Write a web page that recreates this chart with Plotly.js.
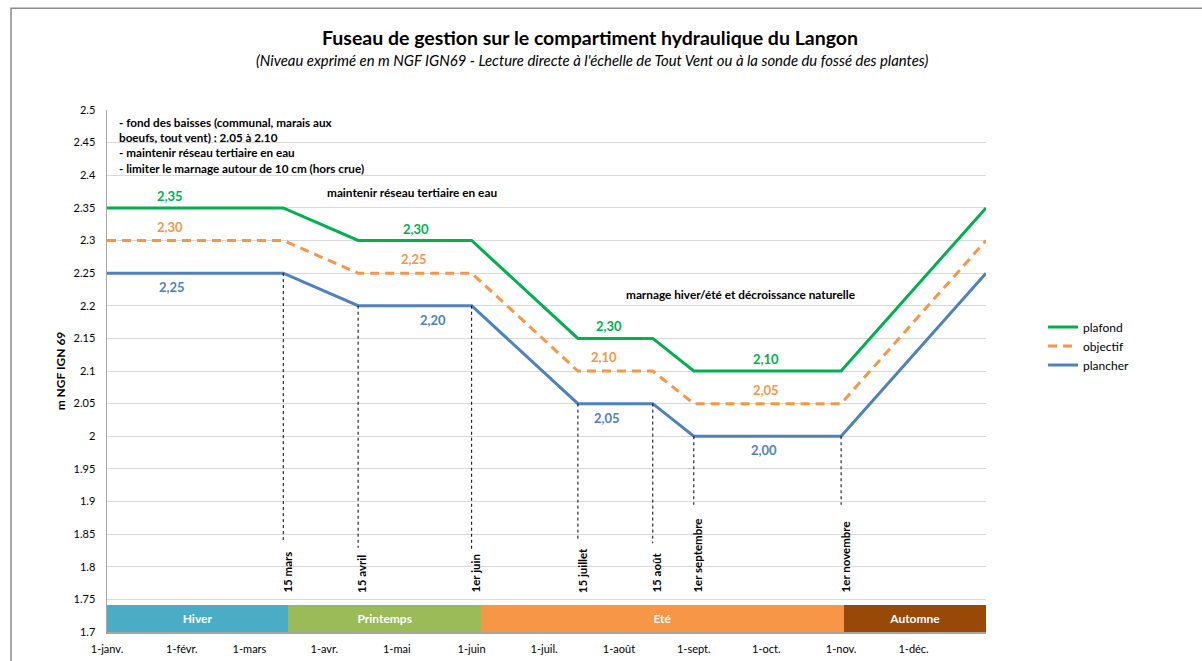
<!DOCTYPE html>
<html>
<head>
<meta charset="utf-8">
<script src="https://cdn.plot.ly/plotly-3.0.1.min.js"></script>
<style>html,body{margin:0;padding:0;background:#fff;}#chart{width:1202px;height:661px;}</style>
</head>
<body>
<div id="chart"></div>
<script>
// ---- Data ----
const dates = ['2023-01-01','2023-03-15','2023-04-15','2023-06-01','2023-07-15','2023-08-15','2023-09-01','2023-11-01','2023-12-31'];
const plafond  = [2.35, 2.35, 2.30, 2.30, 2.15, 2.15, 2.10, 2.10, 2.35];
const objectif = [2.30, 2.30, 2.25, 2.25, 2.10, 2.10, 2.05, 2.05, 2.30];
const plancher = [2.25, 2.25, 2.20, 2.20, 2.05, 2.05, 2.00, 2.00, 2.25];

const monthTicks  = ['2023-01-01','2023-02-01','2023-03-01','2023-04-01','2023-05-01','2023-06-01','2023-07-01','2023-08-01','2023-09-01','2023-10-01','2023-11-01','2023-12-01'];
const monthLabels = ['1-janv.','1-févr.','1-mars','1-avr.','1-mai','1-juin','1-juil.','1-août','1-sept.','1-oct.','1-nov.','1-déc.'];

const seasonNames = ['Hiver','Printemps','Eté','Automne'];
const seasonStart = ['2023-01-01','2023-03-17','2023-06-05','2023-11-02'];
const seasonEnd   = ['2023-03-17','2023-06-05','2023-11-02','2023-12-31'];
const seasonColors = ['#4BACC6','#9BBB59','#F79646','#984807'];

const markerDates  = ['2023-03-15','2023-04-15','2023-06-01','2023-07-15','2023-08-15','2023-09-01','2023-11-01'];
const markerTop    = [2.25, 2.20, 2.20, 2.05, 2.05, 2.00, 2.00];
const markerBottom = [1.841, 1.829, 1.824, 1.839, 1.836, 1.895, 1.895];
const markerLabels = ['15 mars','15 avril','1er juin','15 juillet','15 août','1er septembre','1er novembre'];

const labelTexts  = ['2,35','2,30','2,25','2,30','2,25','2,20','2,30','2,10','2,05','2,10','2,05','2,00'];
const labelDates  = ['2023-01-27','2023-01-27','2023-01-28','2023-05-09','2023-05-08','2023-05-16','2023-07-28','2023-07-26','2023-07-27','2023-10-01','2023-10-01','2023-09-30'];
const labelValues = [2.35, 2.30, 2.25, 2.30, 2.25, 2.20, 2.15, 2.10, 2.05, 2.10, 2.05, 2.00];
const labelSeries = [0,1,2,0,1,2,0,1,2,0,1,2];

const seriesNames  = ['plafond','objectif','plancher'];
const seriesColors = ['#00B050','#F79646','#4F81BD'];

const FONT = 'Lato, "Open Sans", sans-serif';

// ---- Traces ----
const seriesData = [plafond, objectif, plancher];
const traces = seriesData.map((vals, i) => ({
  type: 'scatter', mode: 'lines', x: dates, y: vals, name: seriesNames[i],
  line: {color: seriesColors[i], width: 3, dash: i === 1 ? '9px,6px' : 'solid'},
  hoverinfo: 'skip'
}));

const ms = d => new Date(d + 'T00:00:00Z').getTime();
const seasonMid = seasonStart.map((s, i) => new Date((ms(s) + ms(seasonEnd[i])) / 2).toISOString());
const seasonWidth = seasonStart.map((s, i) => ms(seasonEnd[i]) - ms(s));
traces.unshift({
  type: 'bar', x: seasonMid, y: seasonNames.map(() => 0.041), base: 1.7,
  width: seasonWidth, text: seasonNames, textposition: 'inside', insidetextanchor: 'middle',
  textfont: {color: '#ffffff', size: 12, family: FONT, weight: 'bold'},
  marker: {color: seasonColors, line: {width: 0}}, showlegend: false, hoverinfo: 'skip'
});

// ---- Shapes ----
const shapes = markerDates.map((d, i) => ({
  type: 'line', xref: 'x', yref: 'y', x0: d, x1: d, y0: markerTop[i], y1: markerBottom[i],
  line: {color: '#000000', width: 1, dash: 'dot'}
}));
shapes.push({type: 'rect', xref: 'paper', yref: 'paper', x0: -0.1092, x1: 1.4, y0: 1.195, y1: -0.2,
  line: {color: '#8c8c8c', width: 1.5}, fillcolor: 'rgba(0,0,0,0)', layer: 'below'});

// ---- Annotations ----
const shifts = [12, 14, -14];
const annotations = labelTexts.map((t, i) => ({
  x: labelDates[i], y: labelValues[i], xref: 'x', yref: 'y', text: '<b>' + t + '</b>', showarrow: false,
  xanchor: 'center', yanchor: 'middle',
  yshift: shifts[labelSeries[i]], font: {family: FONT, size: 13, color: seriesColors[labelSeries[i]]}
}));
markerLabels.forEach((t, i) => annotations.push({
  x: markerDates[i], y: 1.757, xref: 'x', yref: 'y', text: '<b>' + t + '</b>', showarrow: false,
  textangle: -90, xanchor: 'center', yanchor: 'bottom', xshift: 4,
  font: {family: FONT, size: 11.5, color: '#000000'}
}));
annotations.push({
  xref: 'paper', yref: 'paper', x: 0.0114, y: 0.9943, xanchor: 'left', yanchor: 'top', align: 'left',
  showarrow: false,
  text: '<b>- fond des baisses (communal, marais aux<br>boeufs, tout vent) : 2.05 à 2.10<br>- maintenir réseau tertiaire en eau<br>- limiter le marnage autour de 10 cm (hors crue)</b>',
  font: {family: FONT, size: 11.7, color: '#000000'}
});
annotations.push({
  xref: 'paper', yref: 'paper', x: (412 - 107) / 879, y: (632 - 192) / 522, showarrow: false,
  xanchor: 'center', yanchor: 'middle',
  text: '<b>maintenir réseau tertiaire en eau</b>', font: {family: FONT, size: 11.8, color: '#000000'}
});
annotations.push({
  xref: 'paper', yref: 'paper', x: (740 - 107) / 879, y: (632 - 294) / 522, showarrow: false,
  xanchor: 'center', yanchor: 'middle',
  text: '<b>marnage hiver/été et décroissance naturelle</b>', font: {family: FONT, size: 11.8, color: '#000000'}
});
annotations.push({
  xref: 'paper', yref: 'paper', x: (592 - 107) / 879, y: (632 - 60) / 522, showarrow: false,
  xanchor: 'center', yanchor: 'middle',
  text: "<i>(Niveau exprimé en m NGF IGN69 - Lecture directe à l'échelle de Tout Vent ou à la sonde du fossé des plantes)</i>",
  font: {family: FONT, size: 14.9, color: '#000000'}
});

const layout = {
  width: 1202, height: 661,
  margin: {l: 107, r: 216, t: 110, b: 29},
  paper_bgcolor: '#ffffff', plot_bgcolor: '#ffffff',
  font: {family: FONT, color: '#000000'},
  title: {text: '<b>Fuseau de gestion sur le compartiment hydraulique du Langon</b>',
    x: 590 / 1202, xanchor: 'center', y: 1 - 38 / 661, yanchor: 'middle', yref: 'container',
    font: {family: FONT, size: 19.5, color: '#000000'}},
  xaxis: {type: 'date', range: ['2023-01-01', '2023-12-31'], tickvals: monthTicks, ticktext: monthLabels,
    showgrid: false, zeroline: false, showline: true, linecolor: '#a6a6a6', linewidth: 1.5,
    ticks: '', tickfont: {family: FONT, size: 11, color: '#000000'}, ticklabelstandoff: 6, fixedrange: true},
  yaxis: {range: [1.7, 2.5], tick0: 1.7, dtick: 0.05, showgrid: true, gridcolor: '#d9d9d9', gridwidth: 1,
    zeroline: false, showline: true, linecolor: '#a6a6a6', linewidth: 1.5, ticks: '',
    tickfont: {family: FONT, size: 11, color: '#000000'}, ticklabelstandoff: 8,
    title: {text: '<b>m NGF IGN 69</b>', font: {family: FONT, size: 12, color: '#000000'}, standoff: 5}},
  legend: {x: 1.0649, y: 0.612, xanchor: 'left', yanchor: 'top', bgcolor: 'rgba(0,0,0,0)',
    font: {family: FONT, size: 12, color: '#000000'}, itemwidth: 30, tracegroupgap: 4},
  bargap: 0,
  shapes: shapes,
  annotations: annotations,
  showlegend: true
};

Plotly.newPlot('chart', traces, layout, {displayModeBar: false, staticPlot: true});
</script>
</body>
</html>
